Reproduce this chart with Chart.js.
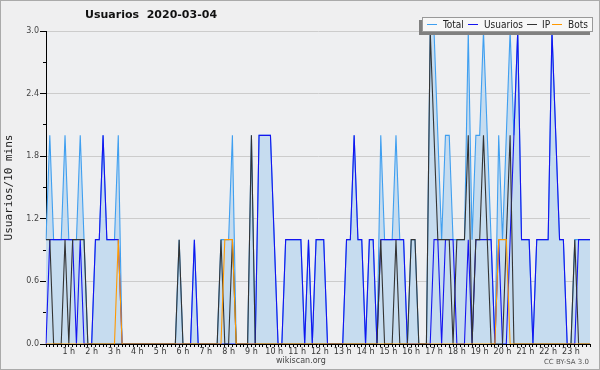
<!DOCTYPE html>
<html>
<head>
<meta charset="utf-8">
<script src="https://cdn.jsdelivr.net/npm/chart.js@4.4.0/dist/chart.umd.min.js"></script>
<style>
  html, body { margin: 0; padding: 0; background: #efefef; }
  #wrap { position: relative; width: 600px; height: 370px; background: #efeff0; overflow: hidden; font-family: "DejaVu Sans", sans-serif; }
  #c { position: absolute; left: 0; top: 0; }
  #frame { position: absolute; left: 0; top: 0; width: 600px; height: 370px; box-sizing: border-box; border: 1px solid #aaa; pointer-events: none; }
  #title { position: absolute; left: 85px; top: 8px; font-size: 11px; font-weight: bold; color: #111; white-space: pre; }
  #legend { position: absolute; left: 422px; top: 17px; width: 171px; height: 15px; box-sizing: border-box; background: #f7f7f7; border: 1px solid #999; box-shadow: -3px 3px 0 #808080; }
  .lg-line { position: absolute; top: 6px; width: 10px; height: 1px; }
  .lg-text { position: absolute; top: 0px; font-family: "DejaVu Sans Condensed", "Liberation Sans Narrow", "DejaVu Sans", sans-serif; font-stretch: condensed; font-size: 10px; line-height: 13px; color: #222; white-space: nowrap; }
  #site { position: absolute; left: 276px; top: 356px; font-size: 8px; color: #444; }
  #lic { position: absolute; right: 11px; top: 358px; font-size: 7px; color: #555; }
</style>
</head>
<body>
<div id="wrap">
  <canvas id="c" width="600" height="370"></canvas>
  <div id="title">Usuarios  2020-03-04</div>
  <div id="legend"></div>
  <div id="site">wikiscan.org</div>
  <div id="lic">CC BY-SA 3.0</div>
  <div id="frame"></div>
</div>
<script>
// 10-minute slots over the day
const hourTicks = ['1 h', '2 h', '3 h', '4 h', '5 h', '6 h', '7 h', '8 h', '9 h', '10 h', '11 h', '12 h',
    '13 h', '14 h', '15 h', '16 h', '17 h', '18 h', '19 h', '20 h', '21 h', '22 h', '23 h'];
const yTicks = [0, 0.6, 1.2, 1.8, 2.4, 3.0];

const slots = [];
for (let h = 0; h < 24; h++) {
    for (let m = 0; m < 60; m += 10) {
        slots.push(String(h).padStart(2, '0') + ':' + String(m).padStart(2, '0'));
    }
}

// series, one value per 10 minutes
const totalData = [
    1, 2, 1, 1, 1, 2, 1, 1, 1, 2, 1, 0,
    0, 1, 1, 2, 1, 1, 1, 2, 0, 0, 0, 0,
    0, 0, 0, 0, 0, 0, 0, 0, 0, 0, 0, 1,
    0, 0, 0, 1, 0, 0, 0, 0, 0, 0, 1, 1,
    1, 2, 0, 0, 0, 0, 2, 0, 2, 2, 2, 2,
    1, 0, 0, 1, 1, 1, 1, 1, 0, 1, 0, 1,
    1, 1, 0, 0, 0, 0, 0, 1, 1, 2, 1, 1,
    0, 1, 1, 0, 2, 1, 1, 1, 2, 1, 1, 0,
    1, 1, 0, 0, 0, 3, 3, 2, 1, 2, 2, 1,
    1, 1, 1, 3, 1, 2, 2, 3, 2, 1, 0, 2,
    1, 2, 3, 2, 3, 1, 1, 1, 0, 1, 1, 1,
    1, 3, 2, 1, 1, 0, 0, 1, 1, 1, 1, 1
];
const usuariosData = [
    0, 1, 1, 1, 1, 1, 1, 1, 0, 1, 0, 0,
    0, 1, 1, 2, 1, 1, 1, 1, 0, 0, 0, 0,
    0, 0, 0, 0, 0, 0, 0, 0, 0, 0, 0, 0,
    0, 0, 0, 1, 0, 0, 0, 0, 0, 0, 0, 0,
    0, 0, 0, 0, 0, 0, 0, 0, 2, 2, 2, 2,
    1, 0, 0, 1, 1, 1, 1, 1, 0, 1, 0, 1,
    1, 1, 0, 0, 0, 0, 0, 1, 1, 2, 1, 1,
    0, 1, 1, 0, 1, 1, 1, 1, 1, 1, 1, 0,
    0, 0, 0, 0, 0, 0, 1, 1, 0, 1, 1, 1,
    0, 0, 0, 1, 0, 1, 1, 1, 1, 1, 0, 1,
    0, 0, 1, 2, 3, 1, 1, 1, 0, 1, 1, 1,
    1, 3, 2, 1, 1, 0, 0, 0, 1, 1, 1, 1
];
const ipData = [
    1, 1, 0, 0, 0, 1, 0, 1, 1, 1, 1, 0,
    0, 0, 0, 0, 0, 0, 0, 0, 0, 0, 0, 0,
    0, 0, 0, 0, 0, 0, 0, 0, 0, 0, 0, 1,
    0, 0, 0, 0, 0, 0, 0, 0, 0, 0, 1, 0,
    0, 1, 0, 0, 0, 0, 2, 0, 0, 0, 0, 0,
    0, 0, 0, 0, 0, 0, 0, 0, 0, 0, 0, 0,
    0, 0, 0, 0, 0, 0, 0, 0, 0, 0, 0, 0,
    0, 0, 0, 0, 1, 0, 0, 0, 1, 0, 0, 0,
    1, 1, 0, 0, 0, 3, 2, 1, 1, 1, 1, 0,
    1, 1, 1, 2, 0, 1, 1, 2, 1, 0, 0, 0,
    0, 1, 2, 0, 0, 0, 0, 0, 0, 0, 0, 0,
    0, 0, 0, 0, 0, 0, 0, 1, 0, 0, 0, 0
];
const botsData = [
    0, 0, 0, 0, 0, 0, 0, 0, 0, 0, 0, 0,
    0, 0, 0, 0, 0, 0, 0, 1, 0, 0, 0, 0,
    0, 0, 0, 0, 0, 0, 0, 0, 0, 0, 0, 0,
    0, 0, 0, 0, 0, 0, 0, 0, 0, 0, 0, 1,
    1, 1, 0, 0, 0, 0, 0, 0, 0, 0, 0, 0,
    0, 0, 0, 0, 0, 0, 0, 0, 0, 0, 0, 0,
    0, 0, 0, 0, 0, 0, 0, 0, 0, 0, 0, 0,
    0, 0, 0, 0, 0, 0, 0, 0, 0, 0, 0, 0,
    0, 0, 0, 0, 0, 0, 0, 0, 0, 0, 0, 0,
    0, 0, 0, 0, 0, 0, 0, 0, 0, 0, 0, 1,
    1, 1, 0, 0, 0, 0, 0, 0, 0, 0, 0, 0,
    0, 0, 0, 0, 0, 0, 0, 0, 0, 0, 0, 0
];

const series = [
    { name: 'Total', data: totalData, color: '#3f9ff0', order: 3, fill: 'origin' },
    { name: 'Usuarios', data: usuariosData, color: '#1414f0', order: 2, fill: false },
    { name: 'IP', data: ipData, color: '#333333', order: 1, fill: false },
    { name: 'Bots', data: botsData, color: '#ff9900', order: 0, fill: false }
];

// legend (html box with drop shadow)
const legend = document.getElementById('legend');
const legendPos = [[4, 20], [45, 61], [104, 119], [129, 145]];
series.forEach((s, i) => {
    const ln = document.createElement('div');
    ln.className = 'lg-line';
    ln.style.left = legendPos[i][0] + 'px';
    ln.style.background = s.color;
    legend.appendChild(ln);
    const tx = document.createElement('div');
    tx.className = 'lg-text';
    tx.style.left = legendPos[i][1] + 'px';
    tx.textContent = s.name;
    legend.appendChild(tx);
});

const plotBg = {
    id: 'plotBg',
    beforeDraw(chart) {
        const { ctx, chartArea: a } = chart;
        ctx.save();
        ctx.fillStyle = '#eeeff1';
        ctx.fillRect(a.left, a.top, a.right - a.left, a.bottom - a.top);
        ctx.restore();
    }
};

const tickFont = { family: 'DejaVu Sans', size: 8 };

new Chart(document.getElementById('c'), {
    type: 'line',
    data: {
        labels: slots,
        datasets: series.map(s => ({
            label: s.name,
            data: s.data,
            borderColor: s.color,
            backgroundColor: s.fill ? '#c6dcef' : s.color,
            fill: s.fill,
            order: s.order,
            borderWidth: 1.1,
            pointRadius: 0,
            tension: 0,
            yAxisID: 'y'
        }))
    },
    options: {
        responsive: false,
        animation: false,
        layout: { padding: { left: 0, right: 10, top: 31, bottom: 10 } },
        plugins: { legend: { display: false }, tooltip: { enabled: false } },
        scales: {
            x: {
                type: 'category',
                offset: false,
                grid: { drawOnChartArea: false, tickLength: 3, tickColor: '#000' },
                border: { color: '#000' },
                ticks: {
                    autoSkip: false, maxRotation: 0, minRotation: 0, padding: 0,
                    font: tickFont, color: '#333',
                    callback: (v, i) => (i > 0 && i % 6 === 0) ? hourTicks[i / 6 - 1] : ''
                },
                afterFit: s => { s.height = 16; }
            },
            y: {
                position: 'left', weight: 1,
                min: 0, max: 3,
                afterBuildTicks: s => { s.ticks = yTicks.map(v => ({ value: v })); },
                ticks: { callback: v => v.toFixed(1), padding: 1, font: tickFont, color: '#444' },
                grid: {
                    color: c => (c.tick && c.tick.value === 0) ? 'rgba(0,0,0,0)' : '#cccccc',
                    tickLength: 6, tickColor: '#000'
                },
                border: { color: '#000' },
                title: {
                    display: true, text: 'Usuarios/10 mins',
                    font: { family: 'DejaVu Sans Mono', size: 11 }, color: '#222',
                    padding: { top: 3, bottom: 0 }
                },
                afterFit: s => { s.width = 46; }
            },
            yMinor: {
                // short tick marks every 0.15 between the labelled ticks
                position: 'left', weight: 0,
                min: 0, max: 3,
                afterBuildTicks: s => {
                    s.ticks = [];
                    for (let k = 0; k <= 20; k++) s.ticks.push({ value: k * 0.15 });
                },
                ticks: { callback: () => '', padding: 0 },
                grid: { drawOnChartArea: false, tickLength: 3, tickColor: '#000' },
                border: { display: false },
                afterFit: s => { s.width = 0; }
            }
        }
    },
    plugins: [plotBg]
});
</script>
</body>
</html>
